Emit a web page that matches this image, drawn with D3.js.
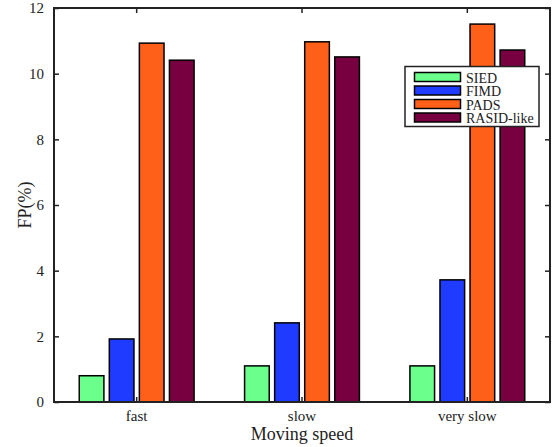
<!DOCTYPE html>
<html>
<head>
<meta charset="utf-8">
<script src="https://cdn.jsdelivr.net/npm/d3@7"></script>
<style>
  body { margin: 0; background: #fff; }
  text { font-family: "Liberation Serif", "Times New Roman", serif; fill: #222; }
</style>
</head>
<body>
<div id="chart"></div>
<script>
var categories = ["fast", "slow", "very slow"];
var seriesNames = ["SIED", "FIMD", "PADS", "RASID-like"];
var seriesColors = ["#6bff8b", "#1f3bff", "#ff6019", "#790040"];
var SIED = [0.8, 1.1, 1.1];
var FIMD = [1.92, 2.41, 3.72];
var PADS = [10.93, 10.97, 11.51];
var RASID = [10.41, 10.51, 10.72];
var yTicks = [0, 2, 4, 6, 8, 10, 12];

var seriesValues = [SIED, FIMD, PADS, RASID];

var width = 553, height = 447;
var margin = { top: 8, right: 3, bottom: 45, left: 54 };
var innerW = width - margin.left - margin.right;
var innerH = height - margin.top - margin.bottom;

var svg = d3.select("#chart").append("svg")
    .attr("width", width)
    .attr("height", height);

var g = svg.append("g")
    .attr("transform", "translate(" + margin.left + "," + margin.top + ")");

var x0 = d3.scaleBand().domain(categories).range([0, innerW]).padding(0);
var x1 = d3.scaleBand().domain(seriesNames).range([0, x0.bandwidth()])
    .paddingInner(0.18).paddingOuter(0.84);
var y = d3.scaleLinear().domain([0, 12]).range([innerH, 0]);

// bars
categories.forEach(function(c, ci) {
    var grp = g.append("g").attr("transform", "translate(" + x0(c) + ",0)");
    seriesNames.forEach(function(s, si) {
        var v = seriesValues[si][ci];
        grp.append("rect")
            .attr("x", x1(s))
            .attr("y", y(v))
            .attr("width", x1.bandwidth())
            .attr("height", innerH - y(v))
            .attr("fill", seriesColors[si])
            .attr("stroke", "#000")
            .attr("stroke-width", 1.5);
    });
});

// axes (inward ticks, boxed)
var tickLen = 5;
var axisColor = "#222";

var yAxis = d3.axisLeft(y).tickValues(yTicks).tickSizeInner(-tickLen).tickSizeOuter(0).tickPadding(tickLen + 5);
var gy = g.append("g").call(yAxis);
gy.select(".domain").remove();
gy.selectAll("line").attr("stroke", axisColor).attr("stroke-width", 1.5);
gy.selectAll("text").style("font-size", "15px").attr("fill", "#222");

var yAxisR = d3.axisRight(y).tickValues(yTicks).tickSizeInner(-tickLen).tickSizeOuter(0).tickFormat("");
var gyr = g.append("g").attr("transform", "translate(" + innerW + ",0)").call(yAxisR);
gyr.select(".domain").remove();
gyr.selectAll("line").attr("stroke", axisColor).attr("stroke-width", 1.5);

var xAxis = d3.axisBottom(x0).tickSizeInner(-tickLen).tickSizeOuter(0).tickPadding(8);
var gx = g.append("g").attr("transform", "translate(0," + innerH + ")").call(xAxis);
gx.select(".domain").remove();
gx.selectAll("line").attr("stroke", axisColor).attr("stroke-width", 1.5);
gx.selectAll("text").style("font-size", "15px").attr("fill", "#222");

var xAxisT = d3.axisTop(x0).tickSizeInner(-tickLen).tickSizeOuter(0).tickFormat("");
var gxt = g.append("g").call(xAxisT);
gxt.select(".domain").remove();
gxt.selectAll("line").attr("stroke", axisColor).attr("stroke-width", 1.5);

// frame
g.append("rect")
    .attr("x", 0).attr("y", 0)
    .attr("width", innerW).attr("height", innerH)
    .attr("fill", "none")
    .attr("stroke", axisColor)
    .attr("stroke-width", 2);

// axis labels
svg.append("text")
    .attr("x", margin.left + innerW / 2)
    .attr("y", 440)
    .attr("text-anchor", "middle")
    .style("font-size", "18px")
    .text("Moving speed");

svg.append("text")
    .attr("transform", "translate(31," + (margin.top + innerH / 2) + ") rotate(-90)")
    .attr("text-anchor", "middle")
    .style("font-size", "18px")
    .text("FP(%)");

// legend
var legend = svg.append("g").attr("transform", "translate(405,66.5)");
legend.append("rect")
    .attr("width", 134).attr("height", 60)
    .attr("fill", "#fff")
    .attr("stroke", "#222")
    .attr("stroke-width", 1.5);

seriesNames.forEach(function(s, i) {
    var row = legend.append("g").attr("transform", "translate(0," + (10.5 + i * 13.5) + ")");
    row.append("rect")
        .attr("x", 9.5).attr("y", -4.5)
        .attr("width", 46).attr("height", 9)
        .attr("fill", seriesColors[i])
        .attr("stroke", "#000")
        .attr("stroke-width", 1.5);
    row.append("text")
        .attr("x", 61)
        .attr("y", 5.5)
        .style("font-size", "14px")
        .text(s);
});
</script>
</body>
</html>
